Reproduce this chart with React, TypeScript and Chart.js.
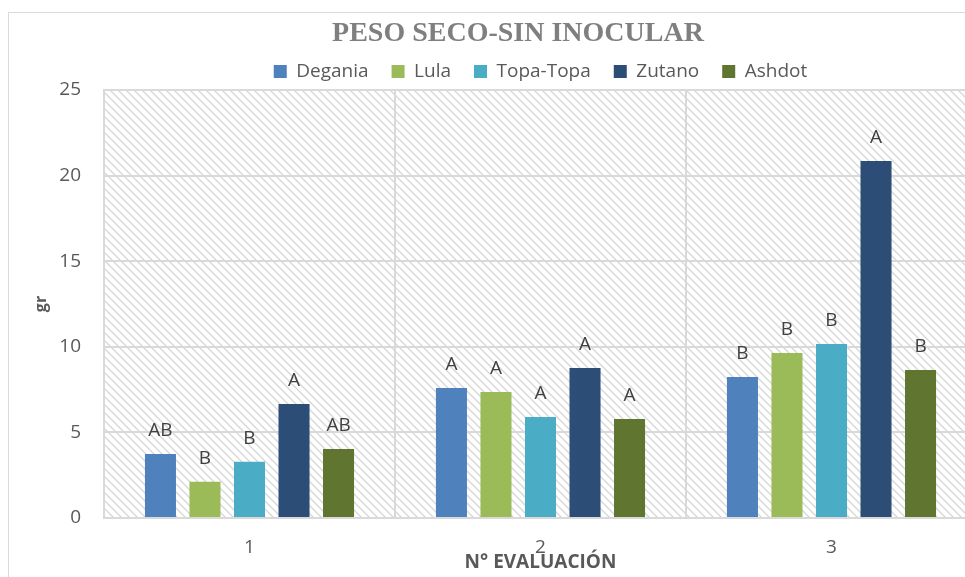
import React, { useEffect, useRef } from "react";
import { Chart, registerables } from "chart.js";

Chart.register(...registerables);

const categories = ["1", "2", "3"];
const seriesNames = ["Degania", "Lula", "Topa-Topa", "Zutano", "Ashdot"];
const degania = [3.74, 7.6, 8.24];
const lula = [2.12, 7.36, 9.64];
const topaTopa = [3.29, 5.9, 10.16];
const zutano = [6.66, 8.76, 20.85];
const ashdot = [4.03, 5.78, 8.64];
const deganiaLetters = ["AB", "A", "B"];
const lulaLetters = ["B", "A", "B"];
const topaTopaLetters = ["B", "A", "B"];
const zutanoLetters = ["A", "A", "A"];
const ashdotLetters = ["AB", "A", "B"];
const seriesColors = ["#4f81bd", "#9bbb59", "#4bacc6", "#2c4d75", "#5f7530"];
const yMin = 0;
const yMax = 25;
const yStep = 5;
const chartTitle = "PESO SECO-SIN INOCULAR";
const xTitle = "N° EVALUACIÓN";
const yTitle = "gr";

const FONT = '"Open Sans", "Liberation Sans", sans-serif';
const W = 1018;
const H = 580;

export default function App() {
  const ref = useRef<HTMLCanvasElement | null>(null);

  useEffect(() => {
    const canvas = ref.current;
    if (!canvas) return;

    const tile = document.createElement("canvas");
    tile.width = 8;
    tile.height = 8;
    const tctx = tile.getContext("2d")!;
    tctx.fillStyle = "#ffffff";
    tctx.fillRect(0, 0, 8, 8);
    tctx.strokeStyle = "#d8d8d8";
    tctx.lineWidth = 1.4;
    tctx.beginPath();
    tctx.moveTo(-2, -2);
    tctx.lineTo(10, 10);
    tctx.moveTo(-2, 6);
    tctx.lineTo(2, 10);
    tctx.moveTo(6, -2);
    tctx.lineTo(10, 2);
    tctx.stroke();
    const ctx0 = canvas.getContext("2d")!;
    const pattern = ctx0.createPattern(tile, "repeat");

    const values = [degania, lula, topaTopa, zutano, ashdot];
    const letters = [deganiaLetters, lulaLetters, topaTopaLetters, zutanoLetters, ashdotLetters];

    const bgPlugin = {
      id: "hatchBg",
      beforeDraw(chart: any) {
        const { ctx, chartArea: a } = chart;
        if (!a || !pattern) return;
        ctx.save();
        ctx.fillStyle = pattern;
        ctx.fillRect(a.left, a.top, a.right - a.left, a.bottom - a.top);
        ctx.restore();
      },
    };

    const labelPlugin = {
      id: "letterLabels",
      afterDatasetsDraw(chart: any) {
        const ctx = chart.ctx;
        ctx.save();
        ctx.font = `19px ${FONT}`;
        ctx.fillStyle = "#404040";
        ctx.textAlign = "center";
        ctx.textBaseline = "alphabetic";
        chart.data.datasets.forEach((_ds: any, i: number) => {
          const meta = chart.getDatasetMeta(i);
          meta.data.forEach((el: any, j: number) => {
            ctx.fillText(letters[i][j], el.x, el.y - 18);
          });
        });
        ctx.restore();
      },
    };

    const chart = new Chart(canvas, {
      type: "bar",
      data: {
        labels: categories,
        datasets: seriesNames.map((name, i) => ({
          label: name,
          data: values[i],
          backgroundColor: seriesColors[i],
          borderWidth: 0,
          categoryPercentage: 0.765,
          barPercentage: 0.697,
          yAxisID: "y",
        })),
      },
      options: {
        responsive: false,
        animation: false,
        devicePixelRatio: 1,
        layout: { padding: 0 },
        plugins: {
          title: {
            display: true,
            text: chartTitle,
            color: "#7f7f7f",
            font: { family: '"Liberation Serif", "Times New Roman", serif', size: 28, weight: "bold", lineHeight: 1.2 },
            padding: { top: 4, bottom: -11.6 },
          },
          legend: {
            display: true,
            position: "top",
            fullSize: false,
            maxHeight: 51,
            labels: {
              color: "#595959",
              font: { family: FONT, size: 19 },
              boxWidth: 13,
              boxHeight: 13,
              padding: 23,
            },
          },
          tooltip: { enabled: false },
        },
        scales: {
          x: {
            grid: { display: true, color: "#d9d9d9", lineWidth: 2, drawTicks: false, offset: true },
            border: { display: true, color: "#d9d9d9", width: 2 },
            ticks: { color: "#595959", font: { family: FONT, size: 19 }, padding: 18.6 },
            title: {
              display: true,
              text: xTitle,
              color: "#595959",
              font: { family: FONT, size: 19, weight: "bold" },
              padding: { top: 0, bottom: 18.6 },
            },
            afterFit(scale: any) {
              scale.height = 75;
            },
          },
          y: {
            min: yMin,
            max: yMax,
            grid: { display: true, color: "#d9d9d9", lineWidth: 2, drawTicks: false },
            border: { display: true, color: "#d9d9d9", width: 2 },
            ticks: { stepSize: yStep, color: "#595959", font: { family: FONT, size: 19 }, padding: 23 },
            title: {
              display: true,
              text: yTitle,
              color: "#595959",
              font: { family: FONT, size: 16, weight: "bold" },
              padding: { top: 22.4, bottom: 0 },
            },
            afterFit(scale: any) {
              scale.width = 95;
            },
          },
          yRight: {
            type: "linear",
            axis: "y",
            position: "right",
            display: true,
            min: yMin,
            max: yMax,
            grid: { display: false, drawOnChartArea: false },
            border: { display: false },
            ticks: { display: false },
            afterFit(scale: any) {
              scale.width = 50;
            },
          },
        },
      },
      plugins: [bgPlugin, labelPlugin],
    } as any);

    return () => chart.destroy();
  }, []);

  return (
    <div style={{ position: "fixed", left: 0, top: 0, width: 965, height: 577, overflow: "hidden", background: "#ffffff" }}>
      <div style={{ position: "absolute", left: 8, top: 12, width: W, height: H, border: "1px solid #d9d9d9" }}>
        <canvas ref={ref} width={W} height={H} style={{ display: "block", width: W, height: H }} />
      </div>
    </div>
  );
}
